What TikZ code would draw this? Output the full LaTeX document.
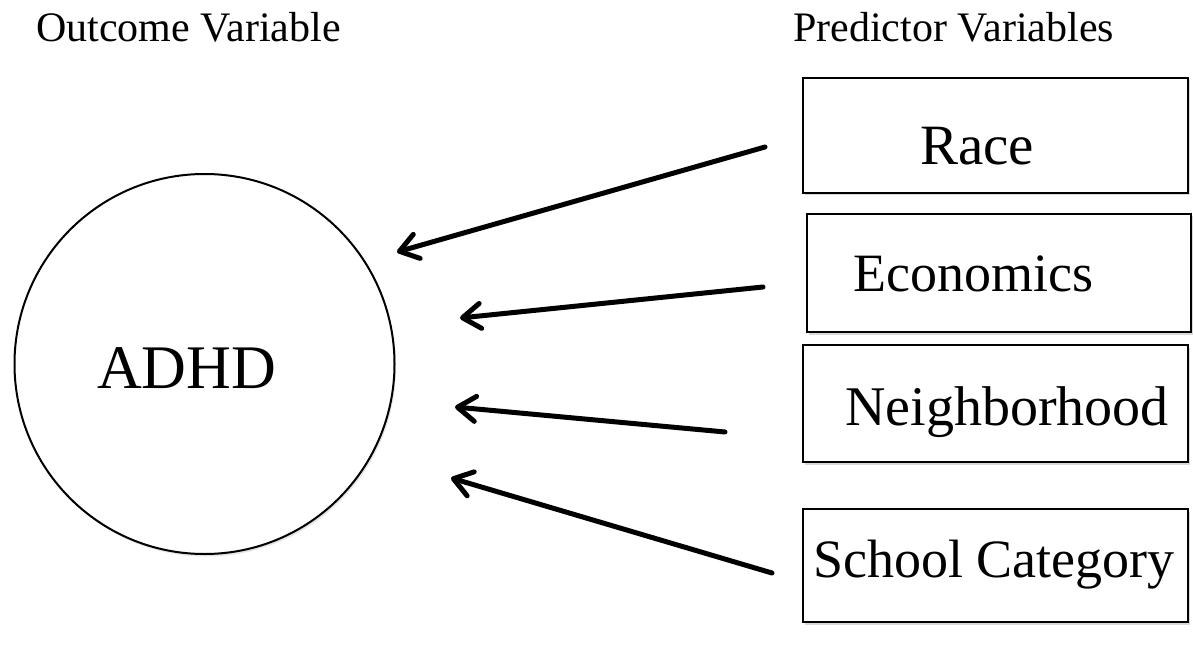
\documentclass[tikz,border=0pt]{standalone}
\usepackage{fontspec}
\setmainfont{Liberation Serif}
\usetikzlibrary{arrows.meta,shadows}
\tikzset{
  predbox/.style={draw=black, line width=2pt, fill=white, rectangle, inner sep=0pt,
    drop shadow={shadow xshift=1.5pt, shadow yshift=-2.5pt, opacity=0.25, fill=black!60}},
  outcome/.style={draw=black, line width=2pt, fill=white, circle, inner sep=0pt,
    minimum size=380pt,
    drop shadow={shadow xshift=1.5pt, shadow yshift=-2.5pt, opacity=0.2, fill=black!50}},
  hdr/.style={anchor=base west, inner sep=0pt, font=\fontsize{42}{48}\selectfont},
  boxtxt/.style={anchor=base west, inner sep=0pt, font=\fontsize{54}{60}\selectfont},
  effect/.style={line width=5pt, line cap=round, line join=round,
    -{Straight Barb[length=18pt,width=25pt,line cap=round,line join=round]}}
}
\begin{document}
\begin{tikzpicture}[x=1pt,y=-1pt]
\useasboundingbox[fill=white] (0,0) rectangle (1193,652);

% headers
\node[hdr] (outhdr) at (36,42) {Outcome Variable};
\node[hdr] (predhdr) at (793,42) {Predictor Variables};

% outcome circle
\node[outcome] (adhd) at (204.5,364) {};
\node[anchor=base west, inner sep=0pt, font=\fontsize{62}{70}\selectfont] (adhdt) at (97,388) {ADHD};

% predictor boxes
\node[predbox, minimum width=385pt, minimum height=115pt] (race) at (995.5,135.5) {};
\node[predbox, minimum width=384pt, minimum height=118pt] (econ) at (999,273) {};
\node[predbox, minimum width=385pt, minimum height=117pt] (neigh) at (995.5,403.5) {};
\node[predbox, minimum width=385pt, minimum height=113pt] (school) at (995.5,565.5) {};

\node[boxtxt, font=\fontsize{57}{62}\selectfont] (racet) at (920,165) {Race};
\node[boxtxt] (econt) at (853,291) {Economics};
\node[boxtxt, font=\fontsize{56}{62}\selectfont] (neight) at (845,425) {Neighborhood};
\node[boxtxt] (schoolt) at (813,577) {School Category};

% arrow end points
\coordinate (t1) at (765,147);
\coordinate (h1) at (397,252);
\coordinate (t2) at (763,287);
\coordinate (h2) at (460,318);
\coordinate (t3) at (725,432);
\coordinate (h3) at (455,407);
\coordinate (t4) at (772,573);
\coordinate (h4) at (451,478);

\draw[effect] (t1) -- (h1);
\draw[effect] (t2) -- (h2);
\draw[effect] (t3) -- (h3);
\draw[effect] (t4) -- (h4);
\end{tikzpicture}
\end{document}
